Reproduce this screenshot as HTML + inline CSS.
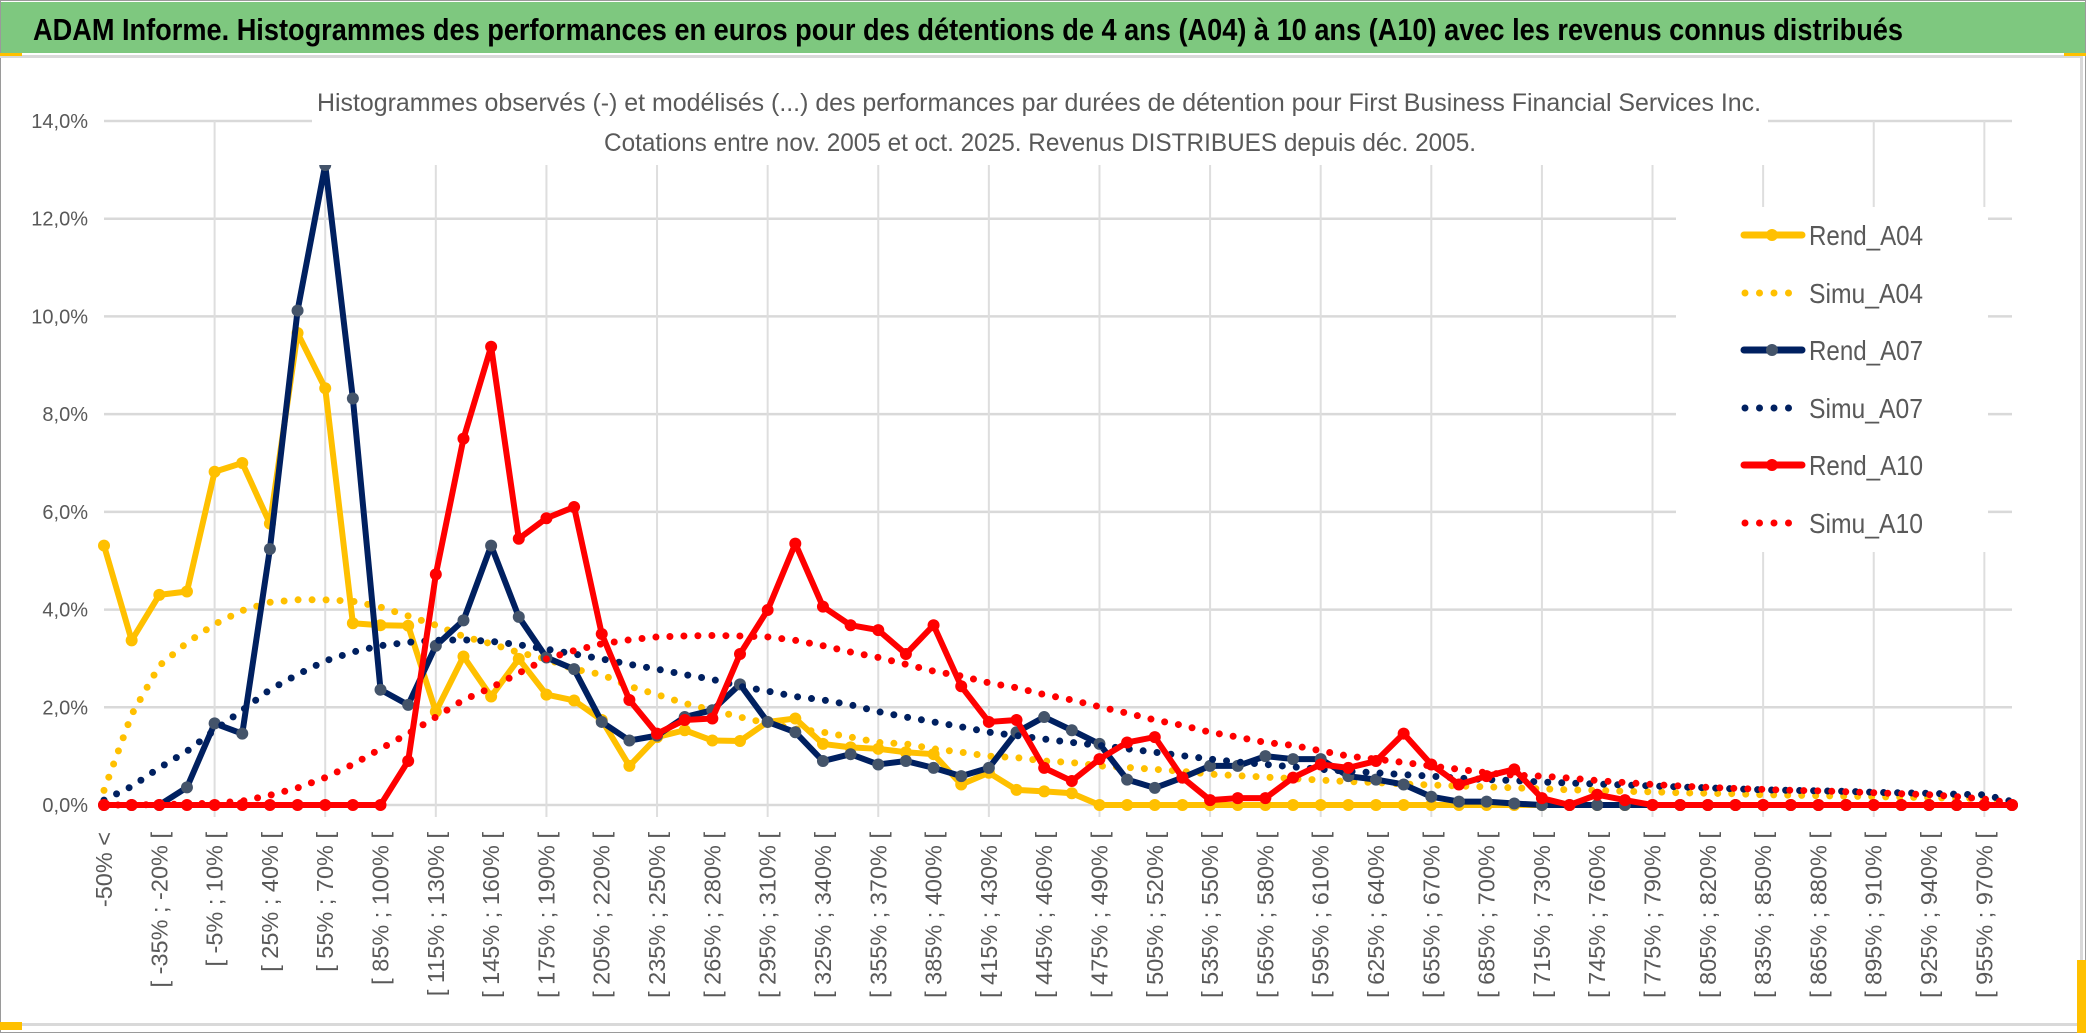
<!DOCTYPE html>
<html><head><meta charset="utf-8"><style>
html,body{margin:0;padding:0;background:#fff;}
svg{display:block;font-family:"Liberation Sans",sans-serif;}
</style></head><body>
<svg id="chart" width="2086" height="1033" viewBox="0 0 2086 1033" xmlns="http://www.w3.org/2000/svg">
<rect x="0.5" y="0.5" width="2085" height="1032" fill="#fff" stroke="#9a9a9a" stroke-width="1"/>
<rect x="1" y="2" width="2084" height="51" fill="#7ec87f"/>
<text x="33" y="40" font-size="31" font-weight="bold" fill="#000" textLength="1870" lengthAdjust="spacingAndGlyphs">ADAM Informe. Histogrammes des performances en euros pour des détentions de 4 ans (A04) à 10 ans (A10) avec les revenus connus distribués</text>
<rect x="0" y="55" width="2083" height="3" fill="#d9d9d9"/>
<rect x="2080" y="55" width="3" height="972" fill="#d9d9d9"/>
<rect x="0" y="1023" width="2083" height="3" fill="#d9d9d9"/>
<rect x="0" y="53" width="22" height="3" fill="#ffc000"/>
<rect x="2064" y="53" width="22" height="3" fill="#ffc000"/>
<rect x="0" y="1022" width="22" height="8" fill="#ffc000"/>
<rect x="2077" y="960" width="9" height="73" fill="#ffc000"/>
<g id="grid"></g>
<g id="series"></g>
<g id="axes"></g>
<rect x="312" y="60" width="1456" height="105" fill="#fff"/>
<text x="317" y="111" font-size="25" fill="#595959" textLength="1444" lengthAdjust="spacingAndGlyphs">Histogrammes observés (-) et modélisés (...) des performances  par durées de détention pour First Business Financial Services Inc.</text>
<text x="604" y="151" font-size="25" fill="#595959" textLength="872" lengthAdjust="spacingAndGlyphs">Cotations entre nov. 2005 et oct. 2025. Revenus DISTRIBUES depuis déc. 2005.</text>
<g id="legend"></g>
</svg>
<script>
const categories = ["-50% <","[ -50% ; -35% [","[ -35% ; -20% [","[ -20% ; -5% [","[ -5% ; 10% [","[ 10% ; 25% [","[ 25% ; 40% [","[ 40% ; 55% [","[ 55% ; 70% [","[ 70% ; 85% [","[ 85% ; 100% [","[ 100% ; 115% [","[ 115% ; 130% [","[ 130% ; 145% [","[ 145% ; 160% [","[ 160% ; 175% [","[ 175% ; 190% [","[ 190% ; 205% [","[ 205% ; 220% [","[ 220% ; 235% [","[ 235% ; 250% [","[ 250% ; 265% [","[ 265% ; 280% [","[ 280% ; 295% [","[ 295% ; 310% [","[ 310% ; 325% [","[ 325% ; 340% [","[ 340% ; 355% [","[ 355% ; 370% [","[ 370% ; 385% [","[ 385% ; 400% [","[ 400% ; 415% [","[ 415% ; 430% [","[ 430% ; 445% [","[ 445% ; 460% [","[ 460% ; 475% [","[ 475% ; 490% [","[ 490% ; 505% [","[ 505% ; 520% [","[ 520% ; 535% [","[ 535% ; 550% [","[ 550% ; 565% [","[ 565% ; 580% [","[ 580% ; 595% [","[ 595% ; 610% [","[ 610% ; 625% [","[ 625% ; 640% [","[ 640% ; 655% [","[ 655% ; 670% [","[ 670% ; 685% [","[ 685% ; 700% [","[ 700% ; 715% [","[ 715% ; 730% [","[ 730% ; 745% [","[ 745% ; 760% [","[ 760% ; 775% [","[ 775% ; 790% [","[ 790% ; 805% [","[ 805% ; 820% [","[ 820% ; 835% [","[ 835% ; 850% [","[ 850% ; 865% [","[ 865% ; 880% [","[ 880% ; 895% [","[ 895% ; 910% [","[ 910% ; 925% [","[ 925% ; 940% [","[ 940% ; 955% [","[ 955% ; 970% [","[ 970% ; 985% ["];
const rendA04 = [5.31,3.37,4.3,4.37,6.82,7.0,5.76,9.66,8.53,3.72,3.68,3.67,1.91,3.04,2.22,2.99,2.26,2.14,1.74,0.8,1.39,1.53,1.32,1.31,1.7,1.77,1.25,1.18,1.15,1.08,1.04,0.42,0.66,0.31,0.28,0.24,0,0,0,0,0,0,0,0,0,0,0,0,0,0,0,0,0,0,0,0,0,0,0,0,0,0,0,0,0,0,0,0,0,0];
const simuA04 = [0.3,1.85,2.85,3.32,3.7,3.98,4.15,4.2,4.2,4.17,4.05,3.87,3.68,3.45,3.3,3.12,2.99,2.78,2.67,2.43,2.26,2.08,1.94,1.8,1.67,1.56,1.49,1.39,1.28,1.25,1.15,1.08,1.0,0.97,0.9,0.87,0.8,0.77,0.73,0.69,0.63,0.6,0.57,0.54,0.51,0.48,0.46,0.43,0.41,0.39,0.37,0.35,0.33,0.31,0.3,0.28,0.27,0.25,0.24,0.23,0.21,0.2,0.19,0.18,0.17,0.16,0.15,0.14,0.13,0.05];
const rendA07 = [0,0,0,0.36,1.67,1.46,5.24,10.12,13.1,8.32,2.36,2.05,3.26,3.78,5.31,3.85,3.02,2.78,1.7,1.32,1.42,1.8,1.94,2.47,1.7,1.49,0.9,1.04,0.83,0.9,0.76,0.59,0.76,1.49,1.8,1.53,1.25,0.52,0.35,0.56,0.8,0.8,1.0,0.94,0.94,0.59,0.52,0.42,0.17,0.07,0.07,0.03,0,0,0,0,0,0,0,0,0,0,0,0,0,0,0,0,0,0];
const simuA07 = [0.1,0.38,0.76,1.1,1.53,1.94,2.36,2.67,2.95,3.13,3.26,3.33,3.37,3.38,3.35,3.28,3.19,3.09,2.99,2.88,2.78,2.67,2.57,2.43,2.33,2.22,2.15,2.05,1.91,1.8,1.7,1.6,1.49,1.42,1.35,1.28,1.22,1.15,1.08,1.01,0.94,0.88,0.83,0.78,0.73,0.69,0.66,0.62,0.59,0.55,0.52,0.5,0.47,0.45,0.43,0.41,0.39,0.37,0.35,0.33,0.31,0.3,0.29,0.28,0.26,0.25,0.24,0.22,0.21,0.07];
const rendA10 = [0,0,0,0,0,0,0,0,0,0,0,0.9,4.72,7.5,9.38,5.45,5.87,6.1,3.5,2.15,1.46,1.74,1.77,3.09,3.99,5.35,4.06,3.68,3.58,3.09,3.68,2.43,1.7,1.74,0.76,0.49,0.94,1.28,1.39,0.56,0.1,0.14,0.14,0.56,0.83,0.76,0.9,1.46,0.83,0.42,0.59,0.73,0.14,0,0.21,0.1,0,0,0,0,0,0,0,0,0,0,0,0,0,0];
const simuA10 = [0,0,0.01,0.02,0.04,0.08,0.2,0.35,0.56,0.83,1.15,1.46,1.8,2.15,2.4,2.7,2.99,3.16,3.3,3.38,3.44,3.46,3.47,3.46,3.44,3.37,3.26,3.13,3.02,2.88,2.74,2.64,2.5,2.4,2.26,2.15,2.01,1.88,1.74,1.63,1.49,1.39,1.28,1.22,1.11,1.0,0.94,0.87,0.8,0.73,0.66,0.61,0.59,0.55,0.5,0.46,0.42,0.39,0.36,0.34,0.32,0.3,0.29,0.27,0.25,0.23,0.21,0.17,0.12,0.04];
const yTicks = [0,2,4,6,8,10,12,14];
const yTickLabels = ["0,0%","2,0%","4,0%","6,0%","8,0%","10,0%","12,0%","14,0%"];
const seriesNames = ["Rend_A04","Simu_A04","Rend_A07","Simu_A07","Rend_A10","Simu_A10"];

const NS="http://www.w3.org/2000/svg";
const X0=104, X1=2012, Y0=805, YTOP=121, YMAX=14;
const n=categories.length;
function xs(i){return X0+i*(X1-X0)/(n-1);}
function ys(v){return Y0-(v/YMAX)*(Y0-YTOP);}
function mk(tag,attrs,parent){const e=document.createElementNS(NS,tag);for(const k in attrs)e.setAttribute(k,attrs[k]);parent.appendChild(e);return e;}

const grid=document.getElementById('grid');
yTicks.forEach((t,i)=>{
  const l=mk('line',{x1:X0,x2:X1,y1:ys(t),y2:ys(t),stroke:'#d9d9d9','stroke-width':2.5},grid);
  
  
});
for(let i=4;i<n;i+=4){
  const l=mk('line',{x1:xs(i),x2:xs(i),y1:YTOP,y2:Y0+12,stroke:'#dedede','stroke-width':2},grid);
  
  
}
const axes=document.getElementById('axes');
yTicks.forEach((t,i)=>{
  const tx=mk('text',{x:88,y:ys(t)+7,'text-anchor':'end','font-size':20,fill:'#595959'},axes);
  tx.textContent=yTickLabels[i];
  
  
});
categories.forEach((c,i)=>{
  if(i%2) return;
  const x=xs(i)+8;
  const tx=mk('text',{x:x,y:832,transform:`rotate(-90 ${x} 832)`,'text-anchor':'end','font-size':23.5,fill:'#595959'},axes);
  tx.textContent=c;
  
  
});

const sg=document.getElementById('series');
function solid(vals,color,mcolor,name){
  const g=mk('g',{},sg);
  
  
  const p=mk('polyline',{points:vals.map((v,i)=>xs(i)+','+ys(v)).join(' '),fill:'none',stroke:color,'stroke-width':6,'stroke-linejoin':'round'},g);
  
  
  vals.forEach((v,i)=>{
    const c=mk('circle',{cx:xs(i),cy:ys(v),r:6,fill:mcolor},g);
    
    
  });
}
function dotted(vals,color,name){
  const p=mk('polyline',{points:vals.map((v,i)=>xs(i)+','+ys(v)).join(' '),fill:'none',stroke:color,'stroke-width':7,'stroke-linecap':'round','stroke-dasharray':'0 14'},sg);
  
  
}
solid(rendA04,'#ffc000','#ffc000','rend-a04');
dotted(simuA04,'#ffc000','simu-a04');
solid(rendA07,'#002060','#44546a','rend-a07');
dotted(simuA07,'#002060','simu-a07');
solid(rendA10,'#ff0000','#ff0000','rend-a10');
dotted(simuA10,'#ff0000','simu-a10');

const lg=document.getElementById('legend');
mk('rect',{x:1676,y:207,width:312,height:345,fill:'#fff'},lg);
const lcols=['#ffc000','#ffc000','#002060','#002060','#ff0000','#ff0000'];
const mcols=['#ffc000','','#44546a','','#ff0000',''];
const lys=[235,293,350,408,465,523];
seriesNames.forEach((s,i)=>{
  const g=mk('g',{},lg);
  
  
  const y=lys[i];
  if(i%2===0){
    mk('line',{x1:1744,x2:1802,y1:y,y2:y,stroke:lcols[i],'stroke-width':7,'stroke-linecap':'round'},g);
    mk('circle',{cx:1772,cy:y,r:6,fill:mcols[i]},g);
  } else {
    mk('line',{x1:1745,x2:i===5?1800:1790,y1:y,y2:y,stroke:lcols[i],'stroke-width':7,'stroke-linecap':'round','stroke-dasharray':'0 14.5'},g);
  }
  const t=mk('text',{x:1809,y:y+10,'font-size':28,fill:'#595959',textLength:114,lengthAdjust:'spacingAndGlyphs'},g);
  t.textContent=s;
});
</script>
</body></html>
